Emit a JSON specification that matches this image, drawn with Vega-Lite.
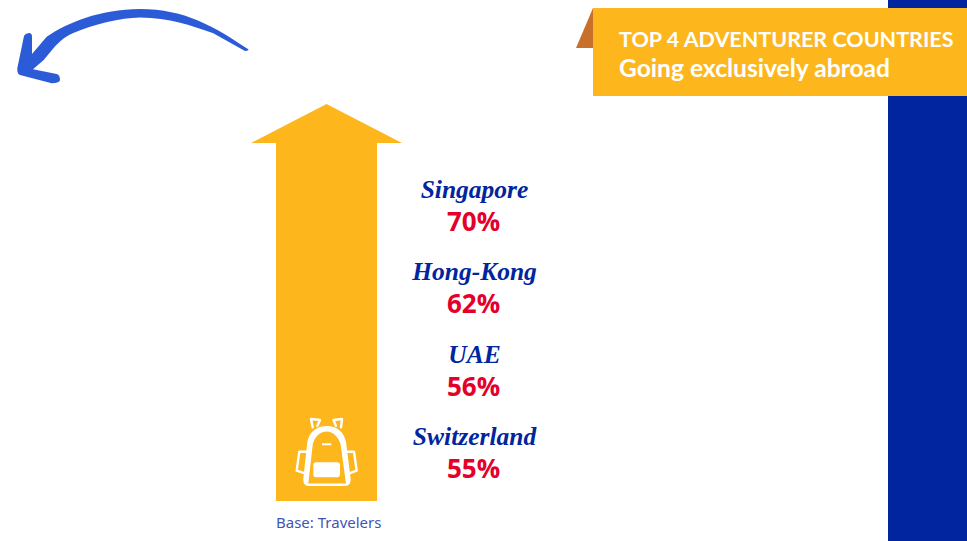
{
"$schema":"https://vega.github.io/schema/vega-lite/v6.json",
"width":967,"height":541,"padding":0,
"autosize":{"type":"none"},
"background":"white",
"config":{"view":{"stroke":null}},
"data":{"values":[
{"country":"Singapore","share":0.70},
{"country":"Hong-Kong","share":0.62},
{"country":"UAE","share":0.56},
{"country":"Switzerland","share":0.55}]},
"resolve":{"scale":{"y":"independent"}},
"layer":[
{"data":{"values":[{"part":"side band"}]},"mark":{"type":"rect","color":"#00259E"},
"encoding":{"x":{"datum":888,"type":"quantitative","scale":{"domain":[0,967],"nice":false,"zero":false},"axis":null},"x2":{"datum":967},"y":{"datum":0,"type":"quantitative","scale":{"domain":[541,0],"nice":false,"zero":false},"axis":null},"y2":{"datum":541}}},
{"data":{"values":[{"part":"ribbon fold"}]},"mark":{"type":"point","filled":true,"size":4,"opacity":1,"fill":"#C8702A","stroke":null,"shape":"M0,-40 L-17,0 L0,0 Z"},
"encoding":{"x":{"datum":593,"type":"quantitative","scale":{"domain":[0,967],"nice":false,"zero":false},"axis":null},"y":{"datum":48,"type":"quantitative","scale":{"domain":[541,0],"nice":false,"zero":false},"axis":null}}},
{"data":{"values":[{"part":"banner"}]},"mark":{"type":"rect","color":"#FDB71D"},
"encoding":{"x":{"datum":593,"type":"quantitative","scale":{"domain":[0,967],"nice":false,"zero":false},"axis":null},"x2":{"datum":967},"y":{"datum":8,"type":"quantitative","scale":{"domain":[541,0],"nice":false,"zero":false},"axis":null},"y2":{"datum":96}}},
{"data":{"values":[{"t":"TOP 4 ADVENTURER COUNTRIES"}]},"mark":{"type":"text","align":"left","baseline":"middle","font":"Lato","fontWeight":"bold","fontSize":21.5,"color":"white"},
"encoding":{"text":{"field":"t"},"x":{"datum":619,"type":"quantitative","scale":{"domain":[0,967],"nice":false,"zero":false},"axis":null},"y":{"datum":40.5,"type":"quantitative","scale":{"domain":[541,0],"nice":false,"zero":false},"axis":null}}},
{"data":{"values":[{"t":"Going exclusively abroad"}]},"mark":{"type":"text","align":"left","baseline":"middle","font":"Lato","fontWeight":"bold","fontSize":24.6,"color":"white"},
"encoding":{"text":{"field":"t"},"x":{"datum":619,"type":"quantitative","scale":{"domain":[0,967],"nice":false,"zero":false},"axis":null},"y":{"datum":70,"type":"quantitative","scale":{"domain":[541,0],"nice":false,"zero":false},"axis":null}}},
{"data":{"values":[{"part":"curved arrow"}]},"mark":{"type":"point","filled":true,"size":4,"opacity":1,"fill":"#2B5BD7","stroke":null,"shape":"M118.3,4.3 C 85,-18 55,-36 10,-36 C -30,-36 -63,-22 -83.3,-8.3 L -98,9 L -98,-8.3 Q -98,-12 -101,-12 Q -105,-11.5 -106,-9 L -112.7,23.3 Q -113,29 -110,30 L -78.3,38.3 Q -70,38 -70,35 Q -70,30 -73.3,29 L -97,24.3 L -86.3,15 L -74.7,1 Q -65,-9 -56.7,-12 C -35,-21 -10,-27 10,-27.5 C 40,-27 60,-20 83.3,-11.7 L 115,6 Q 119,6 118.3,4.3 Z"},
"encoding":{"x":{"datum":130,"type":"quantitative","scale":{"domain":[0,967],"nice":false,"zero":false},"axis":null},"y":{"datum":45,"type":"quantitative","scale":{"domain":[541,0],"nice":false,"zero":false},"axis":null}}},
{"data":{"values":[{"part":"big arrow"}]},"mark":{"type":"point","filled":true,"size":4,"opacity":1,"fill":"#FDB71D","stroke":null,"shape":"M-75.5,-159 L0,-198 L75.5,-159 L50.5,-159 L50.5,199 L-50.5,199 L-50.5,-159 Z"},
"encoding":{"x":{"datum":326.5,"type":"quantitative","scale":{"domain":[0,967],"nice":false,"zero":false},"axis":null},"y":{"datum":302,"type":"quantitative","scale":{"domain":[541,0],"nice":false,"zero":false},"axis":null}}},
{"data":{"values":[{"part":"backpack body"}]},"mark":{"type":"point","filled":true,"size":4,"opacity":1,"fill":"white","stroke":null,"shape":"M-22.7,27 L-18.7,-10 C -17,-20 -9,-26 0.7,-26 C 11,-26 18,-20 20,-10 L 24.7,27 Q 25,34 19,34 L -17.7,34 Q -23,34 -22.7,27 Z M -17.7,31.5 L 20,31.5 L 14.5,-8 C 12.5,-15 7,-20.5 0.7,-20.5 C -6,-20.5 -11.5,-15 -13.2,-8 Z M -10,10.3 L 11,10.3 Q 14,10.3 14,13 L 14,22 Q 14,25.3 11,25.3 L -10,25.3 Q -12.7,25.3 -12.7,22 L -12.7,13 Q -12.7,10.3 -10,10.3 Z M -4,-8.7 L 5.3,-8.7 L 5.3,-6.7 L -4,-6.7 Z"},
"encoding":{"x":{"datum":326,"type":"quantitative","scale":{"domain":[0,967],"nice":false,"zero":false},"axis":null},"y":{"datum":452,"type":"quantitative","scale":{"domain":[541,0],"nice":false,"zero":false},"axis":null}}},
{"data":{"values":[{"part":"backpack straps and side pockets"}]},"mark":{"type":"point","filled":false,"size":4,"opacity":1,"stroke":"white","strokeWidth":2.4,"strokeJoin":"round","strokeCap":"round","shape":"M-13.3,-24.7 L-15,-33 L-6,-32 L-8.7,-26 M15,-24.7 L16,-33 L7.5,-32 L10,-26 M-19.3,-0.3 L-26.7,-0.3 L-29.3,18.7 L-21,21.3 M21.3,-0.3 L28,-0.3 L30.7,18.7 L23.3,21.3"},
"encoding":{"x":{"datum":326,"type":"quantitative","scale":{"domain":[0,967],"nice":false,"zero":false},"axis":null},"y":{"datum":452,"type":"quantitative","scale":{"domain":[541,0],"nice":false,"zero":false},"axis":null}}},
{"mark":{"type":"text","align":"center","baseline":"middle","font":"Liberation Serif","fontStyle":"italic","fontWeight":"bold","fontSize":25.5,"color":"#00259E"},
"encoding":{"text":{"field":"country"},"x":{"datum":474.5,"type":"quantitative","scale":{"domain":[0,967],"nice":false,"zero":false},"axis":null},"y":{"field":"country","type":"nominal","sort":null,"scale":{"type":"point","padding":0,"domain":["Singapore","Hong-Kong","UAE","Switzerland"],"range":[190,437]},"axis":null}}},
{"mark":{"type":"text","align":"center","baseline":"middle","font":"Open Sans","fontWeight":"bold","fontSize":26,"color":"#E4002B","dy":33},
"encoding":{"text":{"field":"share","type":"quantitative","format":".0%"},"x":{"datum":473.5,"type":"quantitative","scale":{"domain":[0,967],"nice":false,"zero":false},"axis":null},"y":{"field":"country","type":"nominal","sort":null,"scale":{"type":"point","padding":0,"domain":["Singapore","Hong-Kong","UAE","Switzerland"],"range":[190,437]},"axis":null}}},
{"data":{"values":[{"t":"Base: Travelers"}]},"mark":{"type":"text","align":"left","baseline":"middle","font":"Noto Sans","fontSize":15,"color":"#3F55B5"},
"encoding":{"text":{"field":"t"},"x":{"datum":276,"type":"quantitative","scale":{"domain":[0,967],"nice":false,"zero":false},"axis":null},"y":{"datum":523,"type":"quantitative","scale":{"domain":[541,0],"nice":false,"zero":false},"axis":null}}}
]
}
